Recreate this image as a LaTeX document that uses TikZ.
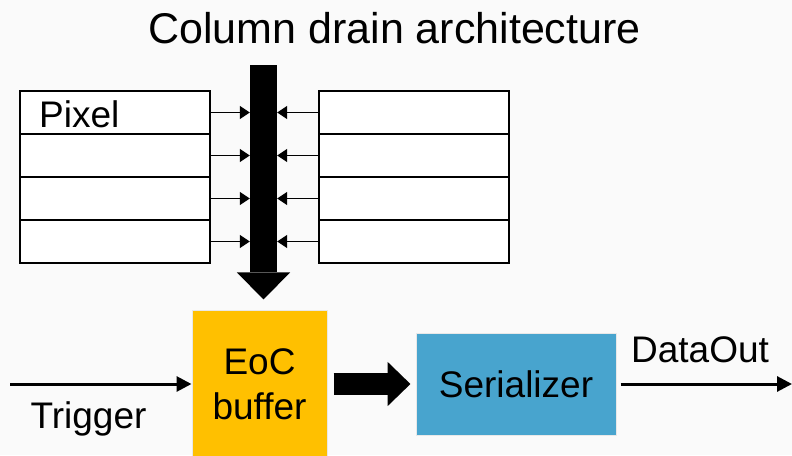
\documentclass[tikz,border=0pt]{standalone}
\usepackage{fontspec}
\setmainfont{Liberation Sans}
\usetikzlibrary{arrows.meta}
\definecolor{bgc}{RGB}{250,250,250}
\definecolor{eocc}{RGB}{255,192,0}
\definecolor{serc}{RGB}{72,164,206}
\definecolor{edgec}{RGB}{232,232,232}
\tikzset{
  pix/.style={draw=black, line width=2pt, fill=white, minimum width=190pt, minimum height=43pt, inner sep=0pt, anchor=north west},
  smallarr/.style={line width=1.3pt, -{Triangle[length=10pt 0 0,width=13pt 0 0]}},
  thinarr/.style={line width=3pt, -{Triangle[length=15pt 0 0,width=15pt 0 0]}},
  fatarr/.style={line width=22pt, -{Triangle[length=23pt 0 0,width=43pt 0 0]}},
  txt/.style={font=\fontsize{37}{45}\selectfont, inner sep=0pt},
  block/.style={draw=edgec, line width=1pt, inner sep=0pt, align=center, font=\fontsize{37}{45}\selectfont}
}
\begin{document}
\begin{tikzpicture}[x=1pt,y=-1pt]
\useasboundingbox (0,0) rectangle (792,455);
\fill[bgc] (0,0) rectangle (792,455);
\clip (0,0) rectangle (792,455);
% title
\node[txt, font=\fontsize{43}{50}\selectfont, anchor=base] (title) at (394.5,43) {Column drain architecture};
% left pixel column
\node[pix] (L1) at (19,90) {};
\node[pix] (L2) at (19,133) {};
\node[pix] (L3) at (19,176) {};
\node[pix] (L4) at (19,219) {};
% right pixel column
\node[pix] (R1) at (318,90) {};
\node[pix] (R2) at (318,133) {};
\node[pix] (R3) at (318,176) {};
\node[pix] (R4) at (318,219) {};
\node[txt, anchor=west] (pixlab) at ([xshift=20pt,yshift=-1.5pt]L1.west) {Pixel};
% column drain bus
\node[fill=black, minimum width=27pt, minimum height=207pt, inner sep=0pt, anchor=north] (shaft) at (263.5,65) {};
\fill[black] ([xshift=-13pt]shaft.south west) -- ([xshift=13pt]shaft.south east) -- ([yshift=-27pt]shaft.south) -- cycle;
\foreach \i in {1,2,3,4}{
  \draw[smallarr] (L\i.east) -- (L\i.east -| shaft.west);
  \draw[smallarr] (R\i.west) -- (R\i.west -| shaft.east);
}
% lower blocks
\node[block, fill=eocc, minimum width=135pt, minimum height=148pt] (eoc) at (259.5,384) {EoC\\buffer};
\node[block, fill=serc, minimum width=200pt, minimum height=102pt] (ser) at (516,384) {Serializer};
\draw[fatarr] ([xshift=6pt]eoc.east) -- ([xshift=-5pt]ser.west);
\coordinate (trigin) at (10,384);
\draw[thinarr] (trigin) -- (eoc.west);
\coordinate (dout) at (792,384);
\draw[thinarr] ([xshift=4pt]ser.east) -- (dout);
\node[txt, anchor=base] (triglab) at (88.5,428) {Trigger};
\node[txt, anchor=base] (doutlab) at (700,362) {DataOut};
\end{tikzpicture}
\end{document}
